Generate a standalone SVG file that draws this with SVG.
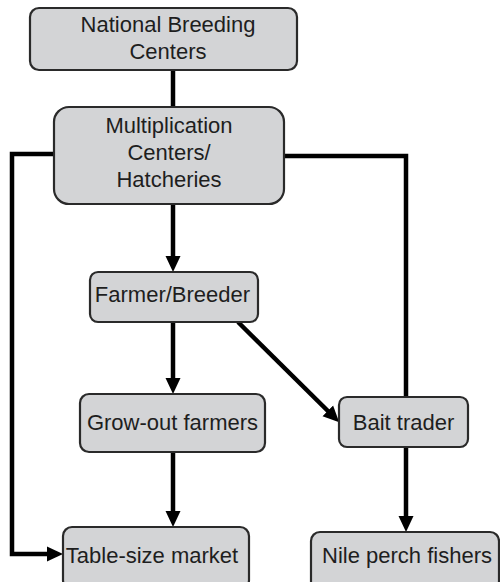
<svg xmlns="http://www.w3.org/2000/svg" width="500" height="582" viewBox="0 0 500 582">
<style>
.box{fill:#d3d4d6;stroke:#2a2a2a;stroke-width:2.2}
.t{font-family:"Liberation Sans",Arial,Helvetica,sans-serif;font-size:22px;fill:#1e1e1e;text-anchor:middle}
.c{fill:none;stroke:#000;stroke-width:4.5}
</style>
<defs>
<marker id="ah" markerUnits="userSpaceOnUse" markerWidth="16" markerHeight="16" refX="8" refY="8" orient="auto">
<path d="M0,0.5 L16,8 L0,15.5 z" fill="#000"/>
</marker>
</defs>
<rect width="500" height="582" fill="#fff"/>
<g id="connectors">
<line class="c" x1="173" y1="70" x2="173" y2="107"/>
<line class="c" x1="173" y1="204" x2="173" y2="264" marker-end="url(#ah)"/>
<line class="c" x1="173" y1="322" x2="173" y2="386" marker-end="url(#ah)"/>
<line class="c" x1="173" y1="452" x2="173" y2="519" marker-end="url(#ah)"/>
<line class="c" x1="406" y1="447" x2="406" y2="524" marker-end="url(#ah)"/>
<path class="c" d="M54,154 H12 V554 H55" marker-end="url(#ah)"/>
<path class="c" d="M284,156 H406 V397"/>
<line class="c" x1="238" y1="322" x2="333.5" y2="416.5" marker-end="url(#ah)"/>
</g>
<g id="national-breeding-centers">
<rect class="box" x="30" y="8" width="267" height="62" rx="9"/>
<text class="t" x="168" y="32">National Breeding</text>
<text class="t" x="168" y="59">Centers</text>
</g>
<g id="multiplication-centers">
<rect class="box" x="54" y="107" width="230" height="97" rx="15"/>
<text class="t" x="169" y="133">Multiplication</text>
<text class="t" x="169" y="160">Centers/</text>
<text class="t" x="169" y="187">Hatcheries</text>
</g>
<g id="farmer-breeder">
<rect class="box" x="90" y="272" width="168" height="50" rx="8"/>
<text class="t" x="172.5" y="302">Farmer/Breeder</text>
</g>
<g id="grow-out-farmers">
<rect class="box" x="80" y="394" width="185" height="58" rx="9"/>
<text class="t" x="172.5" y="430">Grow-out farmers</text>
</g>
<g id="bait-trader">
<rect class="box" x="339" y="397" width="129" height="50" rx="8"/>
<text class="t" x="403.5" y="430">Bait trader</text>
</g>
<g id="table-size-market">
<rect class="box" x="63" y="527" width="186" height="62" rx="9"/>
<text class="t" x="152" y="563">Table-size market</text>
</g>
<g id="nile-perch-fishers">
<rect class="box" x="311" y="532" width="188" height="58" rx="9"/>
<text class="t" x="407" y="563">Nile perch fishers</text>
</g>
</svg>
